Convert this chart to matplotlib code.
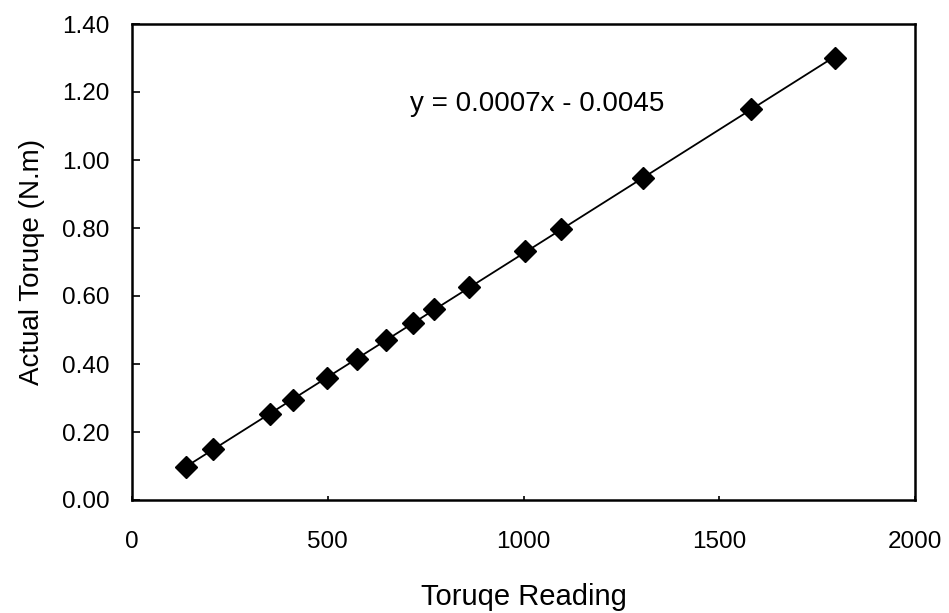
import numpy as np
import matplotlib
matplotlib.use("Agg")
import matplotlib.pyplot as plt

reading = [138, 208, 353, 410, 499, 575, 648, 719, 771, 860, 1004, 1097, 1306, 1580, 1796]
torque = [0.098, 0.150, 0.252, 0.294, 0.358, 0.414, 0.470, 0.522, 0.563, 0.626, 0.733, 0.797, 0.946, 1.149, 1.301]
fit_label = "y = 0.0007x - 0.0045"

plt.rcParams["font.family"] = ["Liberation Sans", "DejaVu Sans"]

fig = plt.figure(figsize=(9.49, 6.13), dpi=100)
ax = fig.add_axes([132 / 949, 1 - 500 / 613, (915 - 132) / 949, (500 - 24) / 613])

# linear trend line across the data range
slope, icept = np.polyfit(reading, torque, 1)
xs = np.array([min(reading), max(reading)])
ax.plot(xs, slope * xs + icept, color="black", lw=1.3, zorder=2)
ax.plot(reading, torque, ls="none", marker="D", ms=11, color="black", zorder=3)

ax.text(710, 1.165, fit_label, fontsize=20, va="center", ha="left")

ax.set_xlim(0, 2000)
ax.set_ylim(0, 1.40)
ax.set_xticks(np.arange(0, 2001, 500))
ax.set_yticks(np.arange(0, 1.41, 0.2))
ax.set_yticklabels([f"{v:.2f}" for v in np.arange(0, 1.41, 0.2)])

for s in ax.spines.values():
    s.set_linewidth(1.8)
ax.tick_params(axis="y", direction="in", length=6, width=1.2, labelsize=17.5, pad=16)
ax.tick_params(axis="x", direction="in", length=3, width=1.2, labelsize=17.5, pad=22)

ax.set_xlabel("Toruqe Reading", fontsize=21, labelpad=22)
ax.set_ylabel("Actual Toruqe (N.m)", fontsize=20, labelpad=12)

fig.savefig("out.png", dpi=100)
